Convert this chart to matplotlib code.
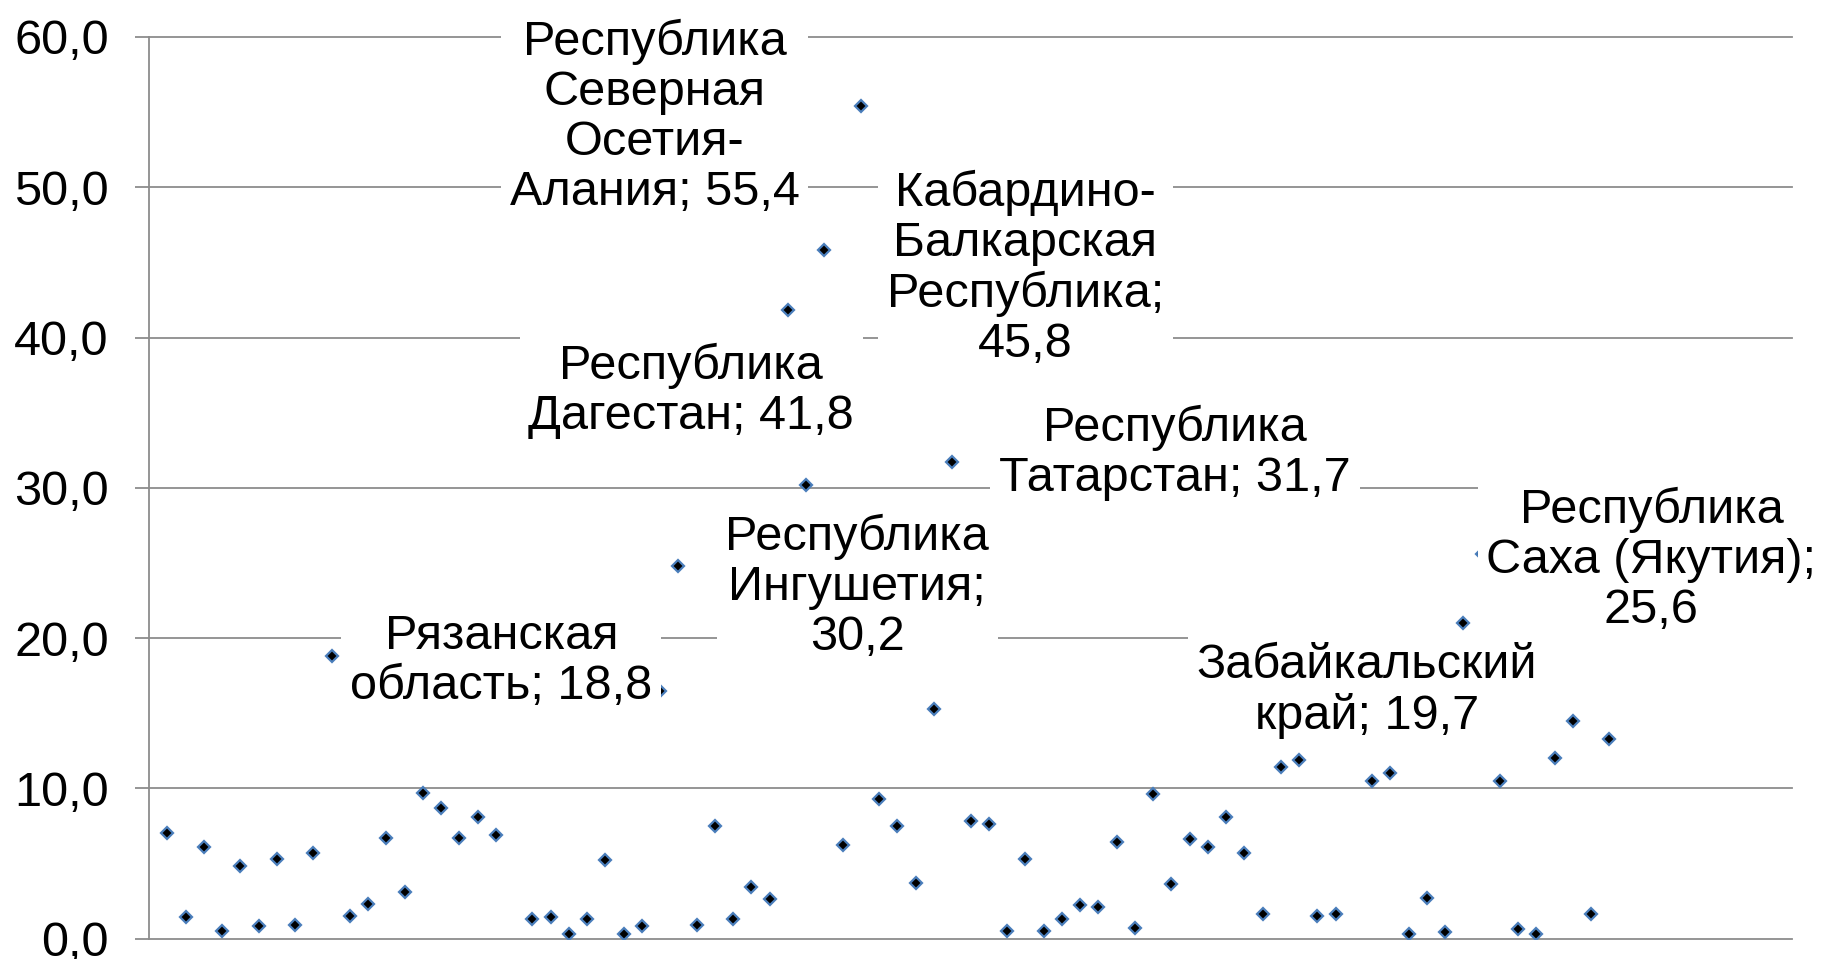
import matplotlib
matplotlib.use("Agg")
import matplotlib.pyplot as plt
from matplotlib.ticker import FuncFormatter, MultipleLocator

plt.rcParams['font.family'] = ['Liberation Sans', 'DejaVu Sans']

# номер региона по порядку и значение показателя
region_idx = [1, 2, 3, 4, 5, 6, 7, 8, 9, 10,
              11, 12, 13, 14, 15, 16, 17, 18, 19,
              21, 22, 23, 24, 25, 26, 27, 28, 29, 30,
              31, 32, 33, 34, 35, 36, 37, 38, 39, 40,
              41, 42, 43, 44, 45, 46, 47, 48, 49, 50,
              51, 52, 53, 54, 55, 56, 57, 58, 59, 60,
              61, 62, 63, 64, 65, 66, 67, 68, 69, 70,
              71, 72, 73, 74, 75, 76, 77, 78, 79, 80]
values = [7.0, 1.4, 6.1, 0.5, 4.8, 0.8, 5.3, 0.9, 5.7, 18.8,
          1.5, 2.3, 6.7, 3.1, 9.7, 8.7, 6.7, 8.1, 6.9,
          1.3, 1.4, 0.3, 1.3, 5.2, 0.3, 0.8, 16.5, 24.8, 0.9,
          7.5, 1.3, 3.4, 2.6, 41.8, 30.2, 45.8, 6.2, 55.4, 9.3,
          7.5, 3.7, 15.3, 31.7, 7.8, 7.6, 0.5, 5.3, 0.5, 1.3,
          2.2, 2.1, 6.4, 0.7, 9.6, 3.6, 6.6, 6.1, 8.1, 5.7,
          1.6, 11.4, 11.9, 1.5, 1.6, 19.7, 10.5, 11.0, 0.3, 2.7,
          0.4, 21.0, 25.6, 10.5, 0.6, 0.3, 12.0, 14.5, 1.6, 13.3]

# подписанные регионы
label_idx = [10, 35, 36, 37, 39, 44, 66, 73]
label_text = ["Рязанская\nобласть; {}",
              "Республика\nДагестан; {}",
              "Республика\nИнгушетия;\n{}",
              "Кабардино-\nБалкарская\nРеспублика;\n{}",
              "Республика\nСеверная\nОсетия-\nАлания; {}",
              "Республика\nТатарстан; {}",
              "Забайкальский\nкрай; {}",
              "Республика\nСаха (Якутия);\n{}"]
# где стоят подписи (центр, в координатах графика)
label_pos = [(19.3, 18.45), (29.7, 36.45), (38.8, 23.4), (48.0, 44.6),
             (27.7, 54.7), (56.2, 32.3), (66.7, 16.45), (82.3, 25.2)]


def comma(v, _=None):
    return f"{v:.1f}".replace('.', ',')


def main():
    fig = plt.figure(figsize=(18.28, 9.59), dpi=100)
    ax = fig.add_axes([149 / 1828, 1 - 938.5 / 959,
                       (1792 - 149) / 1828, (938.5 - 37) / 959])

    grey = '#8c8c8c'
    ax.plot(region_idx, values, linestyle='none', marker='D', ms=6.2,
            mfc='black', mec='#4a7ebb', mew=1.6, zorder=2)

    val_of = dict(zip(region_idx, values))
    for i, txt, pos in zip(label_idx, label_text, label_pos):
        ax.text(pos[0], pos[1], txt.format(comma(val_of[i])),
                ha='center', va='center', multialignment='center',
                fontsize=35, linespacing=1.14, zorder=4,
                bbox=dict(boxstyle='square,pad=0.18', fc='white', ec='none'))

    ax.set_xlim(0, 90)
    ax.set_ylim(0, 60)
    ax.yaxis.set_major_locator(MultipleLocator(10))
    ax.yaxis.set_major_formatter(FuncFormatter(comma))
    ax.grid(axis='y', color=grey, linewidth=1.3)
    for line in ax.get_ygridlines():
        line.set_clip_on(False)
    ax.set_axisbelow(True)

    for s in ['top', 'right', 'bottom']:
        ax.spines[s].set_visible(False)
    ax.spines['left'].set_color(grey)
    ax.spines['left'].set_linewidth(1.3)
    ax.tick_params(axis='y', direction='out', length=10, width=1.3,
                   color=grey, labelsize=35, pad=19)
    ax.tick_params(axis='x', bottom=False, labelbottom=False)

    fig.savefig('out.png', dpi=100)


if __name__ == "__main__":
    main()
